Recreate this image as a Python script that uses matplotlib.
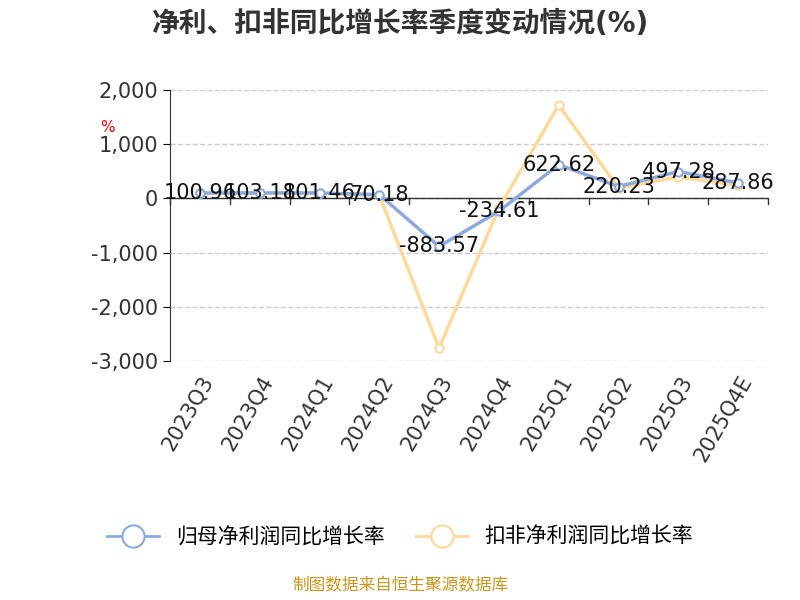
import matplotlib.pyplot as plt
from matplotlib.ticker import FuncFormatter

plt.rcParams['font.family'] = ['DejaVu Sans', 'Noto Sans CJK SC']

quarters = ['2023Q3', '2023Q4', '2024Q1', '2024Q2', '2024Q3', '2024Q4',
            '2025Q1', '2025Q2', '2025Q3', '2025Q4E']
net_profit = [100.96, 103.18, 101.46, 70.18, -883.57, -234.61, 622.62, 220.23, 497.28, 287.86]
deducted = [100, 95, 100, 60, -2760, -180, 1720, 190, 400, 240]

blue = '#8ea9dc'
orange = '#fdd99b'

fig = plt.figure(figsize=(8, 6), dpi=100)
ax = fig.add_axes([0.2125, 0.398, 0.7475, 0.452])
x = list(range(len(quarters)))

ax.plot(x, net_profit, color=blue, lw=2.5, marker='o', ms=6, mfc='white', mec=blue, mew=1.5,
        zorder=3)
ax.plot(x, deducted, color=orange, lw=2.5, marker='o', ms=6, mfc='white', mec=orange, mew=1.5,
        zorder=2)
# legend handles with larger markers
ax.plot([], [], color=blue, lw=2, marker='o', ms=16, mfc='white', mec=blue, mew=1.5, label='归母净利润同比增长率')
ax.plot([], [], color=orange, lw=2, marker='o', ms=16, mfc='white', mec=orange, mew=1.5, label='扣非净利润同比增长率')
for xi, v in zip(x, net_profit):
    ax.text(xi, v, f'{v:.2f}', ha='center', va='center', fontsize=15, color='#111111', zorder=4)

ax.set_xlim(-0.5, len(quarters) - 0.5)
ax.set_ylim(-3000, 2000)
ax.set_yticks(range(-3000, 2001, 1000))
ax.yaxis.set_major_formatter(FuncFormatter(lambda v, p: f'{int(v):,}'))
ax.grid(axis='y', ls='--', color='#cccccc', lw=1)
ax.set_axisbelow(True)
for s in ['top', 'right', 'bottom']:
    ax.spines[s].set_visible(False)
ax.spines['left'].set_color('#333333')
ax.axhline(0, color='#333333', lw=1, zorder=1)
ax.set_xticks([i - 0.5 for i in range(len(quarters) + 1)], minor=False)
ax.set_xticklabels([])
ax.set_xticks(x, minor=True)
ax.set_xticklabels(quarters, minor=True, rotation=60, ha='right', rotation_mode='anchor', fontsize=15, color='#333333')
ax.tick_params(axis='x', which='minor', length=0, pad=8)
ax.tick_params(axis='x', which='major', length=0)
ax.tick_params(axis='y', labelsize=15, labelcolor='#333333', length=5)
for xb in [i - 0.5 for i in range(len(quarters) + 1)]:
    ax.plot([xb, xb], [0, -100], color='#333333', lw=1, clip_on=False)

fig.text(0.125, 0.78, '%', color='red', fontsize=11)
fig.text(0.5, 0.96, '净利、扣非同比增长率季度变动情况(%)', ha='center', va='center',
         fontsize=20, fontweight='bold', color='#333333')
fig.legend(loc='center', bbox_to_anchor=(0.5, 0.105), ncol=2, frameon=False, fontsize=15,
           handlelength=2.5, columnspacing=1.5)
fig.text(0.5, 0.017, '制图数据来自恒生聚源数据库', ha='center', fontsize=12, color='#c8961e')

fig.savefig('out.png')
